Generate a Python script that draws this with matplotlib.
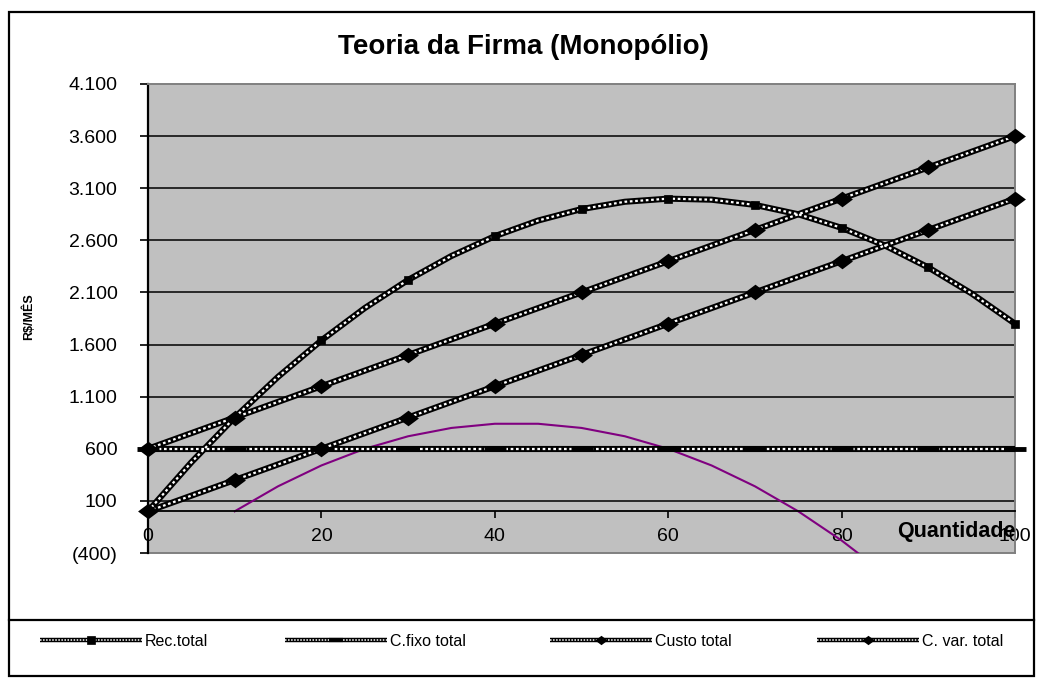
import matplotlib
matplotlib.use("Agg")
import matplotlib.pyplot as plt
from matplotlib.lines import Line2D
from matplotlib.patches import Rectangle
from matplotlib.path import Path
from matplotlib.legend_handler import HandlerTuple

plt.rcParams['font.family'] = ['Liberation Sans', 'DejaVu Sans']

# ---- data ----
q_rec = [0, 5, 10, 15, 20, 25, 30, 35, 40, 45, 50, 55, 60, 65, 70, 75, 80, 85, 90, 95, 100]
rec_total = [0, 470, 900, 1290, 1640, 1950, 2220, 2450, 2640, 2790, 2900, 2970, 3000,
             2990, 2940, 2850, 2720, 2550, 2340, 2090, 1800]
q = [0, 10, 20, 30, 40, 50, 60, 70, 80, 90, 100]
c_fixo = [600, 600, 600, 600, 600, 600, 600, 600, 600, 600, 600]
custo_total = [600, 900, 1200, 1500, 1800, 2100, 2400, 2700, 3000, 3300, 3600]
c_var = [0, 300, 600, 900, 1200, 1500, 1800, 2100, 2400, 2700, 3000]
q_lucro = [10, 15, 20, 25, 30, 35, 40, 45, 50, 55, 60, 65, 70, 75, 80, 85]
lucro = [0, 240, 440, 600, 720, 800, 840, 840, 800, 720, 600, 440, 240, 0, -280, -600]

series_names = ['Rec.total', 'C.fixo total', 'Custo total', 'C. var. total']
y_ticks = [-400, 100, 600, 1100, 1600, 2100, 2600, 3100, 3600, 4100]
y_tick_labels = ['(400)', '100', '600', '1.100', '1.600', '2.100', '2.600', '3.100', '3.600', '4.100']
x_ticks = [0, 20, 40, 60, 80, 100]

W, H = 1038, 679
fig = plt.figure(figsize=(W / 100, H / 100), dpi=100)
ax = fig.add_axes([148 / W, 1 - 553 / H, (1015 - 148) / W, (553 - 84) / H])
ax.set_facecolor('#C0C0C0')
ax.set_xlim(0, 100)
ax.set_ylim(-400, 4100)

for yv in y_ticks[1:-1]:
    ax.axhline(yv, color='black', lw=1.1, zorder=1)

diamond = Path([(-1, 0), (0, 0.75), (1, 0), (0, -0.75), (-1, 0)],
               [Path.MOVETO, Path.LINETO, Path.LINETO, Path.LINETO, Path.CLOSEPOLY])

def textured(xs, ys, marker, ms, markevery=None, mew=0.0):
    ax.plot(xs, ys, color='black', lw=4.4, solid_capstyle='butt', zorder=3)
    ax.plot(xs, ys, color='white', lw=1.6, dashes=(1.2, 1.2), zorder=4)
    ax.plot(xs, ys, ls='none', marker=marker, ms=ms, color='black',
            markeredgewidth=mew, markeredgecolor='black', markevery=markevery,
            zorder=5, clip_on=False)

textured(q_rec, rec_total, 's', 6, markevery=slice(4, None, 2), mew=0.5)
textured(q, c_fixo, '_', 16, mew=3.5)
textured(q, custo_total, diamond, 15)
textured(q, c_var, diamond, 15)

ax.plot(q_lucro, lucro, color='#800080', lw=1.5, zorder=2)

# axes styling
ax.spines['left'].set_color('black')
ax.spines['left'].set_linewidth(1.6)
ax.spines['bottom'].set_position(('data', 0))
ax.spines['bottom'].set_color('black')
ax.spines['bottom'].set_linewidth(1.3)
for s in ['top', 'right']:
    ax.spines[s].set_color('#808080')
    ax.spines[s].set_linewidth(1.4)
ax.plot([0, 100], [-400, -400], color='#808080', lw=1.4, clip_on=False, zorder=0.5)

ax.set_yticks(y_ticks)
ax.set_yticklabels(y_tick_labels)
ax.set_xticks(x_ticks)
ax.tick_params(axis='y', direction='out', length=6, width=1.2, pad=16, labelsize=14)
ax.tick_params(axis='x', direction='out', length=5, width=1.2, pad=7, labelsize=14)

fig.text(523 / W, 1 - 47 / H, 'Teoria da Firma (Monopólio)', ha='center', va='center',
         fontsize=20, fontweight='bold')
fig.text(28 / W, 1 - 317 / H, 'R$/MÊS', rotation=90, ha='center', va='center',
         fontsize=9, fontweight='bold')
fig.text(956 / W, 1 - 531 / H, 'Quantidade', ha='center', va='center',
         fontsize=15.5, fontweight='bold', zorder=10)

# frames
fig.patches.append(Rectangle((9 / W, 1 - 676 / H), (1034 - 9) / W, (676 - 12) / H,
                             transform=fig.transFigure, fill=False, edgecolor='black', lw=1.6))
fig.add_artist(Line2D([9 / W, 1034 / W], [1 - 620 / H, 1 - 620 / H],
                      transform=fig.transFigure, color='black', lw=1.6))

# legend (one entry per block, positioned like the reference)
def leg_handle(marker, ms, mew=0.0):
    b = Line2D([], [], color='black', lw=3.2, solid_capstyle='butt')
    w = Line2D([], [], color='white', lw=1.1, dashes=(1.0, 1.0))
    m = Line2D([], [], ls='none', marker=marker, ms=ms, color='black',
               markeredgewidth=mew, markeredgecolor='black')
    return (b, w, m)

leg_handles = [leg_handle('s', 6, 0.5), leg_handle('_', 10, 3.0),
               leg_handle(diamond, 9), leg_handle(diamond, 9)]
leg_x = [40, 285, 550, 817]
for hx, hd, name in zip(leg_x, leg_handles, series_names):
    lg = fig.legend([hd], [name], loc='center left',
                    bbox_to_anchor=(hx / W, 1 - 641 / H), frameon=False,
                    fontsize=11.5, handlelength=6.4, handletextpad=0.15,
                    borderpad=0, borderaxespad=0,
                    handler_map={tuple: HandlerTuple(ndivide=1, pad=0)})

fig.savefig('out.png', dpi=100)
